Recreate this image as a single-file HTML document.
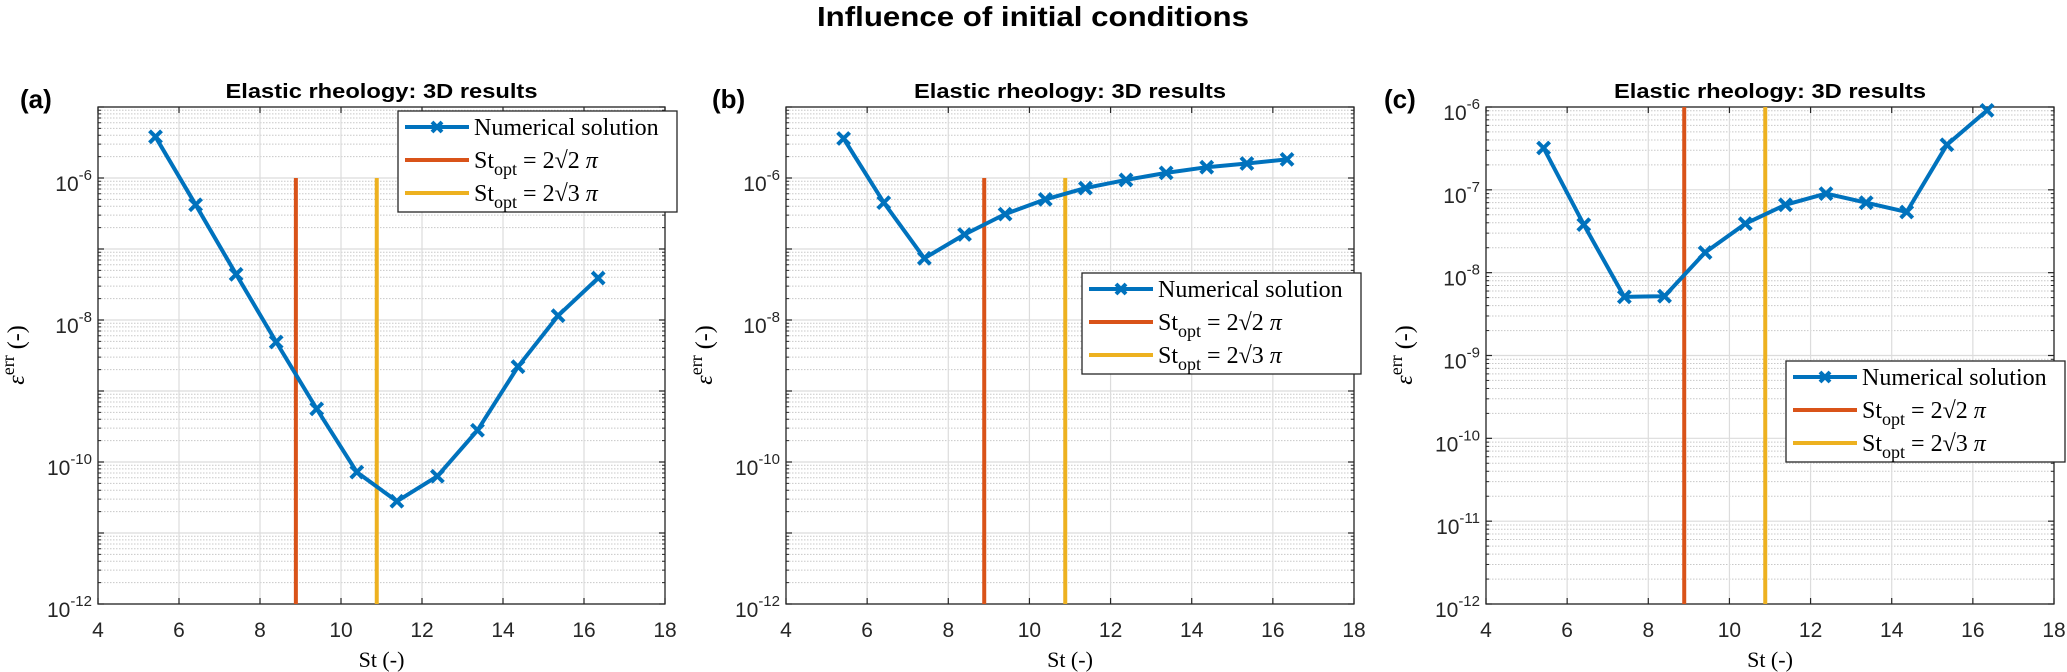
<!DOCTYPE html>
<html><head><meta charset="utf-8"><title>Influence of initial conditions</title>
<style>
html,body{margin:0;padding:0;background:#fff;}
svg{display:block;}
.tick{font-family:"Liberation Sans",Arial,sans-serif;font-size:21px;fill:#262626;}
.serif{font-family:"Liberation Serif","DejaVu Serif",serif;fill:#000;}
</style></head>
<body>
<svg id="fig" width="2067" height="672" viewBox="0 0 2067 672" xmlns="http://www.w3.org/2000/svg">
<rect x="0" y="0" width="2067" height="672" fill="#fff"/>
<text x="1033" y="26" text-anchor="middle" font-family="'Liberation Sans',sans-serif" font-weight="bold" font-size="28" textLength="432" lengthAdjust="spacingAndGlyphs">Influence of initial conditions</text>
</svg>
<script>
const stValues = [5.42, 6.41, 7.41, 8.40, 9.40, 10.39, 11.38, 12.38, 13.37, 14.37, 15.36, 16.35];
const errA = [3.8e-6, 4.2e-7, 4.4e-8, 4.9e-9, 5.6e-10, 7.2e-11, 2.8e-11, 6.3e-11, 2.8e-10, 2.2e-9, 1.15e-8, 3.9e-8];
const errB = [3.6e-6, 4.5e-7, 7.4e-8, 1.6e-7, 3.1e-7, 5.0e-7, 7.2e-7, 9.4e-7, 1.18e-6, 1.42e-6, 1.6e-6, 1.83e-6];
const errC = [3.2e-7, 3.8e-8, 5.1e-9, 5.2e-9, 1.75e-8, 3.9e-8, 6.6e-8, 9.0e-8, 7.0e-8, 5.4e-8, 3.5e-7, 9.1e-7];
const stOpt = [2*Math.SQRT2*Math.PI, 2*Math.sqrt(3)*Math.PI];
const stOptTop = 1e-6;
const xTicks = [4, 6, 8, 10, 12, 14, 16, 18];
const yExpA = [-12, -10, -8, -6];
const yExpC = [-12, -11, -10, -9, -8, -7, -6];

const NS = "http://www.w3.org/2000/svg";
const svg = document.getElementById('fig');
function mk(tag, attrs, parent){
  const e = document.createElementNS(NS, tag);
  for (const k in attrs) e.setAttribute(k, attrs[k]);
  (parent||svg).appendChild(e);
  return e;
}
const BLUE="#0072BD", ORANGE="#D95319", YELLOW="#EDB120";

function panel(p){
  const g = mk('g', {});
  
  
  const L=p.left, R=p.right, T=107, B=604;
  const sx = v => L + (v-4)/(18-4)*(R-L);
  const sy = v => B - (Math.log10(v)-p.ymin)/(p.ymax-p.ymin)*(B-T);
  const grid = mk('g', {}, g);
  
  
  for (let e=p.ymin; e<p.ymax; e++){
    for (let m=2; m<=9; m++){
      const y = sy(m*Math.pow(10,e));
      mk('line',{x1:L,x2:R,y1:y,y2:y,stroke:'#c8c8c8','stroke-width':1,'stroke-dasharray':'1.5 1.5'},grid);
    }
  }
  for (let e=p.ymin; e<=p.ymax; e++){
    const y = sy(Math.pow(10,e));
    mk('line',{x1:L,x2:R,y1:y,y2:y,stroke:'#dcdcdc','stroke-width':1.2},grid);
  }
  xTicks.forEach(t=>{
    const x=sx(t);
    mk('line',{x1:x,x2:x,y1:T,y2:B,stroke:'#dcdcdc','stroke-width':1.2},grid);
  });
  xTicks.forEach(t=>{
    const x=sx(t);
    mk('line',{x1:x,x2:x,y1:B,y2:B-6,stroke:'#262626','stroke-width':1.2},g);
    mk('line',{x1:x,x2:x,y1:T,y2:T+6,stroke:'#262626','stroke-width':1.2},g);
    const tx = mk('text',{x:x,y:B+33,'text-anchor':'middle','class':'tick'},g);
    
    
    tx.textContent = t;
  });
  for (let e=p.ymin; e<=p.ymax; e++){
    const y = sy(Math.pow(10,e));
    mk('line',{x1:L,x2:L+6,y1:y,y2:y,stroke:'#262626','stroke-width':1.2},g);
    mk('line',{x1:R,x2:R-6,y1:y,y2:y,stroke:'#262626','stroke-width':1.2},g);
    for (let m=2;m<=9 && e<p.ymax;m++){
      const ym = sy(m*Math.pow(10,e));
      mk('line',{x1:L,x2:L+3,y1:ym,y2:ym,stroke:'#262626','stroke-width':1},g);
      mk('line',{x1:R,x2:R-3,y1:ym,y2:ym,stroke:'#262626','stroke-width':1},g);
    }
  }
  p.yExp.forEach(e=>{
    const y = sy(Math.pow(10,e));
    const tx = mk('text',{x:L-6,y:y+13,'text-anchor':'end','class':'tick'},g);
    
    
    const a = mk('tspan',{},tx); a.textContent='10';
    const b = mk('tspan',{dy:-11,'font-size':15},tx); b.textContent=String(e);
  });
  const fr = mk('rect',{x:L,y:T,width:R-L,height:B-T,fill:'none',stroke:'#262626','stroke-width':1.3},g);
  
  
  const cols=[ORANGE,YELLOW];
  stOpt.forEach((v,i)=>{
    const ln = mk('line',{x1:sx(v),x2:sx(v),y1:B,y2:sy(stOptTop),stroke:cols[i],'stroke-width':4},g);
    
    
  });
  const pts = stValues.map((x,i)=>sx(x).toFixed(1)+','+sy(p.data[i]).toFixed(1)).join(' ');
  const pl = mk('polyline',{points:pts,fill:'none',stroke:BLUE,'stroke-width':4,'stroke-linejoin':'round'},g);
  
  
  stValues.forEach((x,i)=>{
    const cx=sx(x), cy=sy(p.data[i]), s=6;
    const mg = mk('path',{d:`M${cx-s},${cy-s}L${cx+s},${cy+s}M${cx-s},${cy+s}L${cx+s},${cy-s}`,stroke:BLUE,'stroke-width':4,fill:'none'},g);
    
    
  });
  const ti = mk('text',{x:(L+R)/2,y:98,'text-anchor':'middle','font-family':"'Liberation Sans',sans-serif",'font-weight':'bold','font-size':20,textLength:312,lengthAdjust:'spacingAndGlyphs'},g);
  
  
  ti.textContent='Elastic rheology: 3D results';
  const lb = mk('text',{x:p.labelX,y:108,'font-family':"'Liberation Sans',sans-serif",'font-weight':'bold','font-size':26},g);
  
  
  lb.textContent='('+p.id+')';
  const xl = mk('text',{x:(L+R)/2,y:667,'text-anchor':'middle','class':'serif','font-size':22},g);
  
  
  xl.textContent='St (-)';
  const yl = mk('text',{x:0,y:0,'text-anchor':'middle','class':'serif','font-size':24,transform:`translate(${L-74},355) rotate(-90)`},g);
  
  
  const y1=mk('tspan',{'font-style':'italic'},yl); y1.textContent='ε';
  const y2=mk('tspan',{dy:-10,'font-size':18},yl); y2.textContent='err';
  const y3=mk('tspan',{dy:10},yl); y3.textContent=' (-)';
  const lg = mk('g',{},g);
  
  
  const lx=p.legX, ly=p.legY;
  mk('rect',{x:lx,y:ly,width:279,height:101,fill:'#fff',stroke:'#262626','stroke-width':1.3},lg);
  const rows=[{c:BLUE,t:'num'},{c:ORANGE,t:'2'},{c:YELLOW,t:'3'}];
  rows.forEach((r,i)=>{
    const ry = ly+16+i*33;
    const entry = mk('g',{},lg);
    
    
    mk('line',{x1:lx+7,x2:lx+71,y1:ry,y2:ry,stroke:r.c,'stroke-width':4},entry);
    if (r.t==='num'){
      const cx=lx+39,s=5;
      mk('path',{d:`M${cx-s},${ry-s}L${cx+s},${ry+s}M${cx-s},${ry+s}L${cx+s},${ry-s}`,stroke:BLUE,'stroke-width':4},entry);
      const t=mk('text',{x:lx+76,y:ry+8,'class':'serif','font-size':24},entry);
      t.textContent='Numerical solution';
    } else {
      const t=mk('text',{x:lx+76,y:ry+8,'class':'serif','font-size':24},entry);
      const a=mk('tspan',{},t); a.textContent='St';
      const b=mk('tspan',{dy:7,'font-size':18},t); b.textContent='opt';
      const c=mk('tspan',{dy:-7},t); c.textContent=' = 2√'+r.t+' ';
      const d=mk('tspan',{'font-style':'italic'},t); d.textContent='π';
    }
  });
}
panel({id:'a',left:98,right:665,ymin:-12,ymax:-5,yExp:yExpA,data:errA,labelX:20,legX:398,legY:111});
panel({id:'b',left:786,right:1354,ymin:-12,ymax:-5,yExp:yExpA,data:errB,labelX:712,legX:1082,legY:273});
panel({id:'c',left:1486,right:2054,ymin:-12,ymax:-6,yExp:yExpC,data:errC,labelX:1384,legX:1786,legY:361});
</script>
</body></html>
